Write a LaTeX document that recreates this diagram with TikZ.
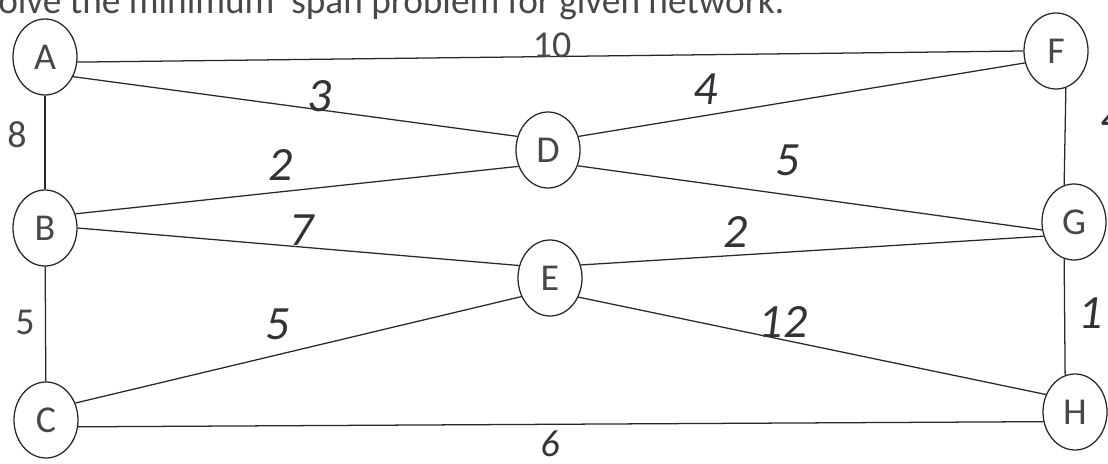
\documentclass[tikz,border=0pt]{standalone}
\usepackage{fontspec}
\setmainfont{Carlito}
\usetikzlibrary{shapes.geometric}
\definecolor{inkgray}{RGB}{40,40,40}
\definecolor{pencil}{RGB}{50,50,58}

\begin{document}
\begin{tikzpicture}[x=0.025cm, y=-0.025cm,
  vert/.style={ellipse, draw=inkgray, line width=0.9pt, minimum width=1.6cm,
               minimum height=1.9cm, inner sep=0pt, font=\fontsize{27}{30}\selectfont, text=inkgray!85},
  link/.style={draw=inkgray, line width=0.9pt},
  printed/.style={font=\fontsize{27}{30}\selectfont, text=inkgray!85, inner sep=0pt},
  hand/.style={font=\fontsize{34}{36}\selectfont\itshape, text=pencil, inner sep=0pt}
]
\useasboundingbox (0,0) rectangle (1108,464);
\clip (0,0) rectangle (1108,464);

% Heading (cut at the top)
\node[anchor=base west, inner sep=0pt, font=\fontsize{26.5}{28}\selectfont, text=inkgray!85]
  (title) at (-2,14) {olve the minimum\ \ span problem for given network.};

% Left column
\node[vert] (A) at (45,57)   {A};
\node[vert] (B) at (45,228)  {B};
\node[vert] (C) at (46,420)  {C};
% Middle
\node[vert] (D) at (548,150) {D};
\node[vert] (E) at (550,278) {E};
% Right column
\node[vert] (F) at (1056,51) {F};
\node[vert] (G) at (1074,222){G};
\node[vert] (H) at (1075,412){H};

% Connections
\draw[link] (A.-9) -- (F.west);
\draw[link] (A) -- (B);
\draw[link] (B) -- (C);
\draw[link] (F.-75) -- (G.105);
\draw[link] (G.-105) -- (H.105);
\draw[link] (A.-35) -- (D.156);
\draw[link] (F.201) -- (D.24);
\draw[link] (B.25) -- (D.209);
\draw[link] (D.-28) -- (G.194);
\draw[link] (B.0) -- (E.158);
\draw[link] (E.23) -- (G.205);
\draw[link] (C.30) -- (E.213);
\draw[link] (E.-34) -- (H.149);
\draw[link] (C.-12) -- (H.197);

% Weights
\node[printed] (wAF) at (552,45)  {10};
\node[printed] (wAB) at (17,135)  {8};
\node[printed] (wBC) at (25,322)  {5};
\node[hand] (wAD) at (320,96)   {3};
\node[hand] (wDF) at (706,89)   {4};
\node[hand] (wBD) at (281,165)  {2};
\node[hand] (wDG) at (788,160)  {5};
\node[hand] (wBE) at (302,230)  {7};
\node[hand] (wEG) at (736,232)  {2};
\node[hand] (wCE) at (278,324)  {5};
\node[hand] (wEH) at (783,322)  {12};
\node[hand, font=\fontsize{27}{29}\selectfont\itshape] (wCH) at (550,444) {6};
\node[hand] (wFG) at (1113,118) {4};
\node[hand] (wGH) at (1091,313) {1};
\end{tikzpicture}
\end{document}
